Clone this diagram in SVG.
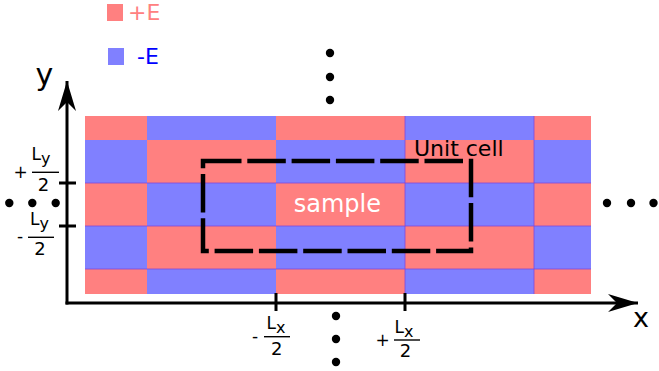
<svg xmlns="http://www.w3.org/2000/svg" width="659" height="371" viewBox="0 0 659 371">
  <style>
    .r { fill: #ff8080; }
    .b { fill: #8080ff; }
    .seam { stroke: #8048d8; stroke-width: 0.8; fill: none; }
    .ax { stroke: #000; stroke-width: 3; fill: none; }
    .t { font-family: "DejaVu Sans", "Liberation Sans", sans-serif; fill: #000; }
    .dot { fill: #000; }
  </style>
  <defs>
    <marker id="arr" markerUnits="userSpaceOnUse" viewBox="-31 -10 32 20" refX="0" refY="0" markerWidth="32" markerHeight="20" orient="auto">
      <path d="M0,0 L-30,-9 L-21,0 L-30,9 Z" fill="#000"/>
    </marker>
  </defs>

  <g id="legend">
    <rect class="r" x="107" y="4" width="16" height="17"/>
    <text class="t" x="128" y="19.5" font-size="22" style="fill:#ff8080">+E</text>
    <rect class="b" x="108" y="48" width="16" height="17"/>
    <text class="t" x="137" y="64" font-size="22" style="fill:#0000ff">-E</text>
  </g>

  <g id="lattice">
    <!-- row 0 -->
    <rect class="r" x="85" y="116" width="62" height="24"/>
    <rect class="b" x="147" y="116" width="129" height="24"/>
    <rect class="r" x="276" y="116" width="129" height="24"/>
    <rect class="b" x="405" y="116" width="129" height="24"/>
    <rect class="r" x="534" y="116" width="57" height="24"/>
    <!-- row 1 -->
    <rect class="b" x="85" y="140" width="62" height="43"/>
    <rect class="r" x="147" y="140" width="129" height="43"/>
    <rect class="b" x="276" y="140" width="129" height="43"/>
    <rect class="r" x="405" y="140" width="129" height="43"/>
    <rect class="b" x="534" y="140" width="57" height="43"/>
    <!-- row 2 -->
    <rect class="r" x="85" y="183" width="62" height="43"/>
    <rect class="b" x="147" y="183" width="129" height="43"/>
    <rect class="r" x="276" y="183" width="129" height="43"/>
    <rect class="b" x="405" y="183" width="129" height="43"/>
    <rect class="r" x="534" y="183" width="57" height="43"/>
    <!-- row 3 -->
    <rect class="b" x="85" y="226" width="62" height="43"/>
    <rect class="r" x="147" y="226" width="129" height="43"/>
    <rect class="b" x="276" y="226" width="129" height="43"/>
    <rect class="r" x="405" y="226" width="129" height="43"/>
    <rect class="b" x="534" y="226" width="57" height="43"/>
    <!-- row 4 -->
    <rect class="r" x="85" y="269" width="62" height="25"/>
    <rect class="b" x="147" y="269" width="129" height="25"/>
    <rect class="r" x="276" y="269" width="129" height="25"/>
    <rect class="b" x="405" y="269" width="129" height="25"/>
    <rect class="r" x="534" y="269" width="57" height="25"/>
    <path class="seam" d="M85,183 H591 M85,226 H591 M85,269 H591 M405,116 V294 M534,116 V294"/>
    <text class="t" x="293.7" y="212" font-size="24" style="fill:#ffffff">sample</text>
  </g>

  <g id="unit-cell">
    <path d="M203,161 H471 V251 H203 Z" fill="none" stroke="#000" stroke-width="4.5" stroke-dasharray="38.5 5.8" stroke-linecap="butt" stroke-linejoin="miter"/>
    <text class="t" x="414" y="155.7" font-size="22">Unit cell</text>
  </g>

  <g id="connectors">
    <line class="ax" x1="67" y1="304.5" x2="67" y2="81" marker-end="url(#arr)"/>
    <line class="ax" x1="65.5" y1="303" x2="638" y2="303" marker-end="url(#arr)"/>
    <path class="ax" d="M59,183 H76 M59,226 H76 M276,293 V311 M405,293 V311"/>
  </g>

  <g id="axis-labels">
    <text class="t" x="35.5" y="85" font-size="30">y</text>
    <text class="t" x="633" y="327" font-size="27">x</text>
  </g>

  <g id="tick-labels">
    <!-- +Ly/2 -->
    <text class="t" x="20.5" y="178" font-size="17" text-anchor="middle">+</text>
    <text class="t" x="31.5" y="160" font-size="17">L<tspan dy="4" font-size="16">y</tspan></text>
    <line x1="32" y1="172.3" x2="59" y2="172.3" stroke="#000" stroke-width="1.4"/>
    <text class="t" x="43.5" y="190.5" font-size="18" text-anchor="middle">2</text>
    <!-- -Ly/2 -->
    <text class="t" x="20" y="242" font-size="17" text-anchor="middle">-</text>
    <text class="t" x="30" y="225" font-size="17">L<tspan dy="4" font-size="16">y</tspan></text>
    <line x1="28" y1="237.3" x2="54" y2="237.3" stroke="#000" stroke-width="1.4"/>
    <text class="t" x="40" y="255" font-size="18" text-anchor="middle">2</text>
    <!-- -Lx/2 -->
    <text class="t" x="255" y="342" font-size="17" text-anchor="middle">-</text>
    <text class="t" x="266.5" y="329" font-size="17">L<tspan dy="4" font-size="16">x</tspan></text>
    <line x1="264" y1="336.7" x2="290" y2="336.7" stroke="#000" stroke-width="1.4"/>
    <text class="t" x="276.7" y="355" font-size="18" text-anchor="middle">2</text>
    <!-- +Lx/2 -->
    <text class="t" x="382.5" y="346" font-size="17" text-anchor="middle">+</text>
    <text class="t" x="394.5" y="333" font-size="17">L<tspan dy="4" font-size="16">x</tspan></text>
    <line x1="394" y1="340" x2="420" y2="340" stroke="#000" stroke-width="1.4"/>
    <text class="t" x="405.5" y="357" font-size="18" text-anchor="middle">2</text>
  </g>

  <g id="ellipses">
    <circle class="dot" cx="330" cy="53" r="4.2"/>
    <circle class="dot" cx="330" cy="77" r="4.2"/>
    <circle class="dot" cx="330" cy="100" r="4.2"/>
    <circle class="dot" cx="336" cy="316" r="4.2"/>
    <circle class="dot" cx="336" cy="339" r="4.2"/>
    <circle class="dot" cx="336" cy="362" r="4.2"/>
    <circle class="dot" cx="9.3" cy="203" r="4.2"/>
    <circle class="dot" cx="32.3" cy="203" r="4.2"/>
    <circle class="dot" cx="55.7" cy="203" r="4.2"/>
    <circle class="dot" cx="607" cy="203" r="4.2"/>
    <circle class="dot" cx="631" cy="203" r="4.2"/>
    <circle class="dot" cx="653.5" cy="203" r="4.2"/>
  </g>
</svg>
